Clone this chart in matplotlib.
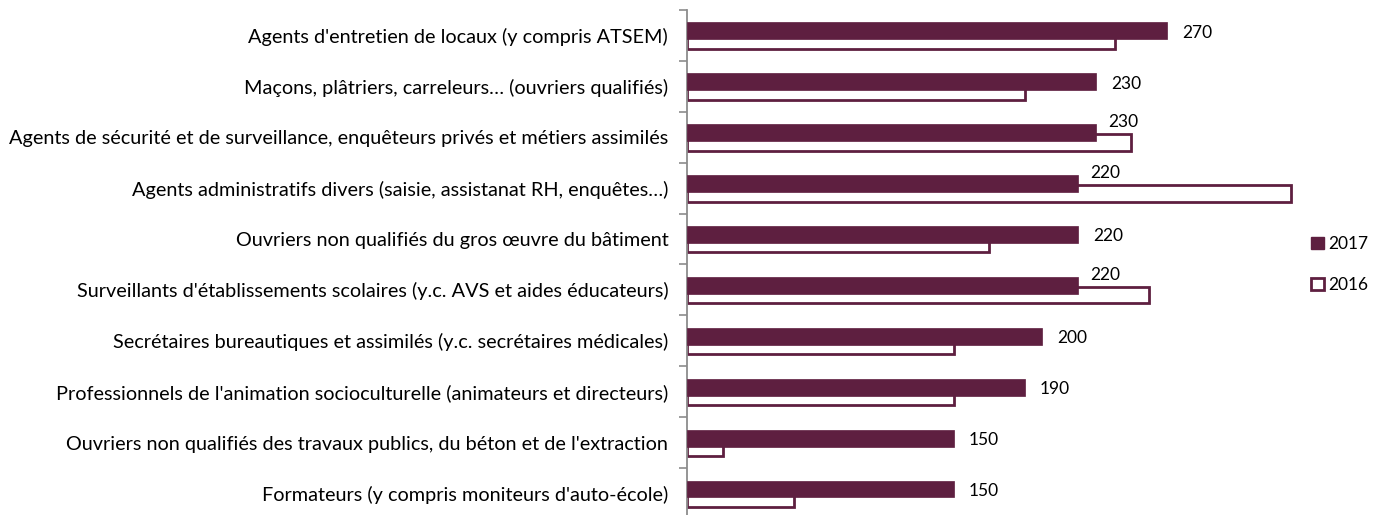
import matplotlib
matplotlib.use("Agg")
import matplotlib.pyplot as plt
from matplotlib.patches import Patch
import numpy as np

plt.rcParams['font.family'] = ['Lato', 'DejaVu Sans']

categories = [
    "Agents d'entretien de locaux (y compris ATSEM)",
    "Maçons, plâtriers, carreleurs… (ouvriers qualifiés)",
    "Agents de sécurité et de surveillance, enquêteurs privés et métiers assimilés",
    "Agents administratifs divers (saisie, assistanat RH, enquêtes…)",
    "Ouvriers non qualifiés du gros œuvre du bâtiment",
    "Surveillants d'établissements scolaires (y.c. AVS et aides éducateurs)",
    "Secrétaires bureautiques et assimilés (y.c. secrétaires médicales)",
    "Professionnels de l'animation socioculturelle (animateurs et directeurs)",
    "Ouvriers non qualifiés des travaux publics, du béton et de l'extraction",
    "Formateurs (y compris moniteurs d'auto-école)",
]
values_2017 = [270, 230, 230, 220, 220, 220, 200, 190, 150, 150]
values_2016 = [241, 190, 250, 340, 170, 260, 150, 150, 20, 60]
series_labels = ["2017", "2016"]

maroon = "#5E1F40"
fs_cat = 14.3
fs_num = 12.5

fig = plt.figure(figsize=(13.88, 5.15), dpi=100)
ax = fig.add_axes([687/1388, -0.008, 622/1388, 0.989])

y = np.arange(len(categories))
h = 0.33
ax.barh(y + 0.10, values_2016, height=h, color="white", edgecolor=maroon,
        linewidth=2.0, zorder=2)
ax.barh(y - 0.09, values_2017, height=h, color=maroon, edgecolor=maroon,
        linewidth=0.5, zorder=3)

for i, (v17, v16) in enumerate(zip(values_2017, values_2016)):
    if v16 > v17:
        ax.annotate(f"{v17}", xy=(v17, i - 0.09), xytext=(9, 7.5),
                    textcoords="offset points", ha="left", va="center",
                    fontsize=fs_num, color="black", zorder=4)
    else:
        ax.annotate(f"{v17}", xy=(v17, i - 0.09), xytext=(11, -1.5),
                    textcoords="offset points", ha="left", va="center",
                    fontsize=fs_num, color="black", zorder=4)

ax.set_xlim(0, 350)
ax.set_ylim(len(categories) - 0.5, -0.5)

ax.set_yticks(np.arange(-0.5, len(categories) + 0.5, 1.0))
ax.set_yticklabels([])
ax.set_yticks(y, minor=True)
ax.set_yticklabels(categories, minor=True, fontsize=fs_cat)
ax.tick_params(axis="y", which="major", length=6, width=1.2, color="#8C8C8C",
               direction="out")
ax.tick_params(axis="y", which="minor", length=0, pad=13.5)
ax.set_xticks([])

for s in ["top", "right", "bottom"]:
    ax.spines[s].set_visible(False)
ax.spines["left"].set_color("#8C8C8C")
ax.spines["left"].set_linewidth(1.3)

handles = [Patch(facecolor=maroon, edgecolor=maroon),
           Patch(facecolor="white", edgecolor=maroon, linewidth=2.0)]
fig.legend(handles, series_labels, loc="center left",
           bbox_to_anchor=(1311/1388, 0.486), frameon=False, fontsize=fs_num,
           handlelength=0.72, handleheight=0.72, handletextpad=0.3,
           labelspacing=1.45, borderpad=0, borderaxespad=0)

fig.savefig("out.png", dpi=100)
